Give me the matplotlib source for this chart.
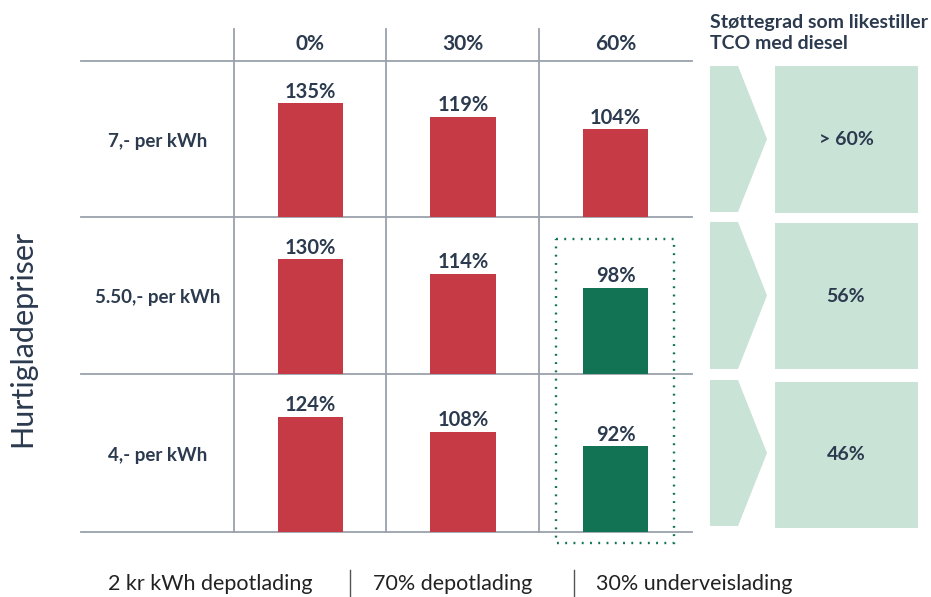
import matplotlib
matplotlib.use("Agg")
import matplotlib.pyplot as plt
from matplotlib.patches import Polygon, Rectangle

# Data
row_labels = ["7,- per kWh", "5.50,- per kWh", "4,- per kWh"]
col_labels = ["0%", "30%", "60%"]
values = [
    [135, 119, 104],
    [130, 114, 98],
    [124, 108, 92],
]
highlight = [
    [False, False, False],
    [False, False, True],
    [False, False, True],
]
support_levels = ["> 60%", "56%", "46%"]
side_title = "Støttegrad som likestiller\nTCO med diesel"
axis_title = "Hurtigladepriser"
footer_parts = ["2 kr kWh depotlading", "70% depotlading", "30% underveislading"]

# Style
RED = "#c63a45"
GREEN = "#127354"
MINT = "#c9e3d7"
TEXT = "#2b3a4e"
GRID = "#9aa1ad"
FONT = "Lato"

W, H = 931, 597


def fx(x):
    return x / W


def fy(y):
    return 1 - y / H


def main():
    fig = plt.figure(figsize=(W / 100, H / 100), dpi=100)

    # background axes in pixel coordinates for table lines and side boxes
    bg = fig.add_axes([0, 0, 1, 1])
    bg.set_xlim(0, W)
    bg.set_ylim(H, 0)
    bg.axis("off")

    row_edges = [61, 217, 374, 532]
    col_edges = [234, 386, 539, 692]
    for y in row_edges:
        bg.plot([81, 692], [y, y], color=GRID, lw=1.3, zorder=1)
    for x in col_edges[:-1]:
        bg.plot([x, x], [29, 532], color=GRID, lw=1.3, zorder=1)

    # column headers
    for i, lab in enumerate(col_labels):
        cx = (col_edges[i] + col_edges[i + 1]) / 2
        bg.text(cx, 44, lab, ha="center", va="center", fontsize=15,
                fontweight="bold", color=TEXT, family=FONT)

    # rows of bars
    for r in range(3):
        top, bot = row_edges[r], row_edges[r + 1]
        ax = fig.add_axes([fx(234), fy(bot), fx(692) - fx(234), (bot - top) / H])
        ax.patch.set_alpha(0)
        vals = values[r]
        colors = [GREEN if highlight[r][c] else RED for c in range(3)]
        ax.bar(range(3), vals, width=0.43, color=colors, zorder=2)
        for c, v in enumerate(vals):
            ax.annotate(f"{v}%", (c, v), xytext=(0, 1), textcoords="offset points",
                        ha="center", va="bottom", fontsize=14.5, fontweight="bold",
                        color=TEXT, family=FONT)
        ax.set_xlim(-0.5, 2.5)
        ax.set_ylim(0, max(vals) * 1.37)
        ax.axis("off")

        # row label
        cy = (top + bot) / 2 + 2
        bg.text(158, cy, row_labels[r], ha="center", va="center", fontsize=13.5,
                fontweight="bold", color=TEXT, family=FONT)

    # highlight frame
    bg.add_patch(Rectangle((556, 239), 118, 304, fill=False, ec=GREEN,
                           lw=1.7, ls=(0, (0.8, 2.7)), zorder=3))

    # side panel: chevrons and boxes
    chev = [(66, 212), (222, 369), (380, 526)]
    boxes = [(66, 213), (223, 369), (382, 528)]
    for r in range(3):
        t, b = chev[r]
        m = (t + b) / 2
        bg.add_patch(Polygon([(710, t), (738, t), (767, m), (738, b), (710, b)],
                             closed=True, fc=MINT, ec="none"))
        t2, b2 = boxes[r]
        bg.add_patch(Rectangle((775, t2), 143, b2 - t2, fc=MINT, ec="none"))
        bg.text(846, (t2 + b2) / 2, support_levels[r], ha="center", va="center",
                fontsize=14, fontweight="bold", color=TEXT, family=FONT)

    bg.text(710, 33, side_title, ha="left", va="center", fontsize=14,
            fontweight="bold", color=TEXT, family=FONT, linespacing=1.3)

    # vertical axis title
    bg.text(22, 338, axis_title, ha="center", va="center", rotation=90,
            fontsize=22, color=TEXT, family=FONT)

    # footer
    xs = [108, 373, 596]
    for x, part in zip(xs, footer_parts):
        bg.text(x, 584, part, ha="left", va="center", fontsize=15.5,
                color="#222222", family=FONT)
    for x in [350, 574]:
        bg.plot([x, x], [570, 598], color="#555555", lw=1)

    fig.savefig("out.png", dpi=100)


if __name__ == "__main__":
    main()
